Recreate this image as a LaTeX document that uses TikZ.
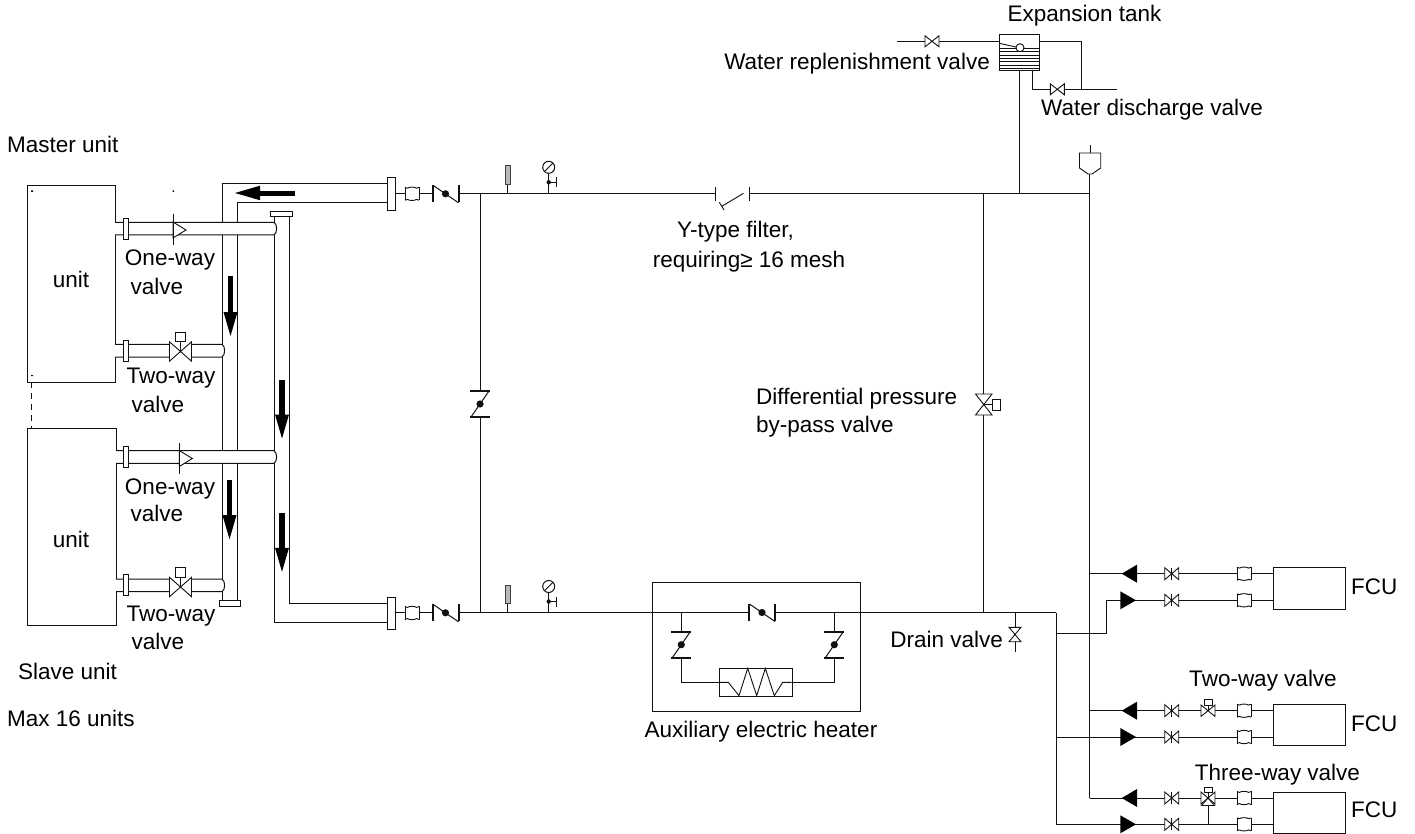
\documentclass[tikz,border=0pt]{standalone}
\usepackage{fontspec}
\setmainfont{Liberation Sans}
\definecolor{ink}{HTML}{111111}
\tikzset{
  pipe/.style={draw=ink,line width=1pt},
  thin pipe/.style={draw=ink,line width=.9pt},
  txt/.style={inner sep=0pt,font=\fontsize{22.5}{25}\selectfont,text=black},
  boxnode/.style={draw=ink,line width=1pt,fill=white,inner sep=0pt,minimum width=#1},
  pics/softjoint/.style={code={
    \fill[white] (-7,-6) rectangle (7,6);
    \draw[thin pipe] (-7,-6.7) -- (-7,6.7) (7,-6.7) -- (7,6.7);
    \draw[thin pipe] (-7,-6.4) -- (-4.5,-5.6) .. controls (-3,-7) and (3,-7) .. (4.5,-5.6) -- (7,-6.4);
    \draw[thin pipe] (-7,6.4) -- (-4.5,5.6) .. controls (-3,7) and (3,7) .. (4.5,5.6) -- (7,6.4);
  }},
  pics/checkh/.style={code={
    \fill[white] (-13,-4) rectangle (13,4);
    \draw[pipe,line width=2pt] (-13,-8.5) -- (-13,8.5) (13,-8.5) -- (13,8.5);
    \draw[pipe] (-12.5,-8.5) -- (13,9);
    \fill[ink] (0,0) circle[radius=3.6pt];
  }},
  pics/checkv/.style={code={
    \fill[white] (-4,-13) rectangle (4,13);
    \draw[pipe,line width=2pt] (-10,-13) -- (10,-13) (-10,13) -- (10,13);
    \draw[pipe] (9,-13) -- (-9,13);
    \fill[ink] (0,0) circle[radius=3.6pt];
  }},
  pics/bowtie/.style={code={
    \draw[thin pipe,fill=white] (-7,-5.5) -- (7,5.5) -- (7,-5.5) -- (-7,5.5) -- cycle;
  }},
  pics/bowtiebar/.style={code={
    \draw[thin pipe,fill=white] (-7,-6) -- (7,6) -- (7,-6) -- (-7,6) -- cycle;
    \draw[thin pipe] (0,-6) -- (0,6);
  }},
  pics/bowtiev/.style={code={
    \draw[thin pipe,fill=white] (-6,-7.2) -- (6,7.2) -- (-6,7.2) -- (6,-7.2) -- cycle;
  }},
  pics/gauge/.style={code={
    \draw[pipe] (0,0) -- (0,-20);
    \draw[pipe,fill=white] (0,-26) circle[radius=6pt];
    \draw[thin pipe] (-4,-22) -- (4,-30);
    \fill[ink] (0,-11) circle[radius=2.2pt];
    \draw[pipe] (0,-11) -- (8,-11) (8,-16) -- (8,-6);
  }},
  pics/thermo/.style={code={
    \draw[pipe] (0,0) -- (0,-9);
    \draw[draw=ink!80,line width=.8pt,fill=ink!30] (-2.2,-9) rectangle (2.2,-27.5);
  }},
  pics/arrowdown/.style={code={
    \fill[black] (-2.6,0) rectangle (2.6,#1) ;
    \fill[black] (-7,#1) -- (7,#1) -- (0,#1+24) -- cycle;
  }},
  pics/actuator/.style={code={
    \fill[white] (-11,-9.7) rectangle (11,9.7);
    \draw[thin pipe,fill=white] (-5.2,-9.7) rectangle (5.2,-19.2);
    \draw[thin pipe,fill=white] (-11,-9.7) -- (11,9.7) -- (11,-9.7) -- (-11,9.7) -- cycle;
    \draw[thin pipe] (0,0) -- (0,-9.7);
  }},
  pics/fwdvalve/.style={code={
    \draw[thin pipe,fill=white] (0,-8) -- (13,0) -- (0,8) -- cycle;
    \draw[pipe] (0,-16) -- (0,15.5);
  }},
}
\begin{document}
\begin{tikzpicture}[x=1pt,y=-1pt,line join=miter]
\useasboundingbox (0,0) rectangle (1415,834);
% --- named junctions
\coordinate (topL) at (395,193.3);
\coordinate (topV) at (480,193.3);
\coordinate (topFa) at (715,193.3);
\coordinate (topFb) at (749,193.3);
\coordinate (topB) at (983.7,193.3);
\coordinate (topT) at (1019.3,193.3);
\coordinate (topR) at (1089.7,193.3);
\coordinate (botL) at (395,612.5);
\coordinate (botV) at (480,612.5);
\coordinate (botB) at (983.7,612.5);
\coordinate (botD) at (1015,612.5);
\coordinate (botR) at (1056.3,612.5);
% --- units
\node[boxnode=88.5,minimum height=197.5,anchor=north west] (u1) at (26.5,184.7) {};
\node[boxnode=89.5,minimum height=197.2,anchor=north west] (u2) at (26.5,427.5) {};
\draw[thin pipe,dash pattern=on 6pt off 5pt] (31.5,382) -- (31.5,427.5);
\fill[ink] (31,190.5) rectangle (33,192) (172.5,190.5) rectangle (174,192) (31,375) rectangle (33,376);
% --- header pipes
\draw[pipe] (388,183.6) -- (222.5,183.6) -- (222.5,601);
\draw[pipe] (388,202.6) -- (237.5,202.6) -- (237.5,601);
\draw[pipe,fill=white] (219.5,600.8) rectangle (240.5,606.8);
\draw[pipe] (274,217) -- (274,622.6) -- (388,622.6);
\draw[pipe] (289,217) -- (289,603.4) -- (388,603.4);
\draw[pipe,fill=white] (270.5,211.7) rectangle (292.5,217);
% --- branch pipes
\draw[pipe,fill=white] (115,222.3) -- (274,222.3) .. controls (277.5,224) and (277.5,233) .. (274,235) -- (115,235);
\draw[pipe,fill=white] (115,344.3) -- (222,344.3) .. controls (225.5,346) and (225.5,355) .. (222,357) -- (115,357);
\draw[pipe,fill=white] (116,450.7) -- (274,450.7) .. controls (277.5,452.5) and (277.5,461.5) .. (274,463.3) -- (116,463.3);
\draw[pipe,fill=white] (116,579) -- (222,579) .. controls (225.5,581) and (225.5,590) .. (222,591.7) -- (116,591.7);
% flanges
\foreach \n/\yy in {a/228.6,b/350.6,c/457,d/585.3}{
  \draw[pipe,fill=white] (123,\yy-10.5) rectangle (128.5,\yy+10.5);
}
\draw[pipe,fill=white] (387.3,177.3) rectangle (395.3,210.7);
\draw[pipe,fill=white] (387.3,597.7) rectangle (395.3,629.3);
% valves on branches
\pic at (173,230) {fwdvalve};
\pic at (179.3,458.5) {fwdvalve};
\pic at (180.5,351.5) {actuator};
\pic at (180.5,587) {actuator};
% block arrows
\fill[black] (295,190.6) rectangle (258,195.6);
\fill[black] (260,185.7) -- (260,200.2) -- (235,193) -- cycle;
\pic at (230.5,276) {arrowdown=36};
\pic at (282,379.5) {arrowdown=35};
\pic at (229.5,479.7) {arrowdown=35.5};
\pic at (282,513.3) {arrowdown=34.5};
% --- main loop
\draw[pipe] (topL) -- (topFa) (topFb) -- (topR);
\draw[pipe] (botL) -- (652,612.5) (860,612.5) -- (botR);
\draw[pipe] (topV) -- (botV);
\draw[pipe] (topB) -- (botB);
\draw[pipe] (1089.7,174) -- (topR) -- (1089.7,798);
\pic at (412,193.8) {softjoint};
\pic at (445.5,193.8) {checkh};
\pic at (412,613) {softjoint};
\pic at (445.5,612.8) {checkh};
\pic at (480,404) {checkv};
\pic at (507.7,193.3) {thermo};
\pic at (548.7,193.3) {gauge};
\pic at (507.7,612.5) {thermo};
\pic at (548.7,612.5) {gauge};
% Y filter
\draw[thin pipe] (715,186.7) -- (715,200.7) (749,186.7) -- (749,200.7);
\draw[thin pipe] (743.5,193.3) -- (721.5,206.5) (719.3,202.3) -- (724,210);
% by-pass valve
\draw[thin pipe,fill=white] (975.5,394) -- (992,394) -- (975.5,415) -- (992,415) -- cycle;
\draw[thin pipe] (983.7,404.5) -- (992,404.5);
\draw[thin pipe,fill=white] (992,399) rectangle (1000,410);
% --- tank
\node[boxnode=39.4,minimum height=36,anchor=north west] (tank) at (999.3,34) {};
\foreach \yy in {48,51.7,55,58.3,61.7,65.7,68}{\draw[thin pipe] (999.3,\yy) -- (1038.7,\yy);}
\draw[thin pipe] (999.3,43.3) -- (1016,47);
\draw[thin pipe,fill=white] (1020,47.7) circle[radius=4pt];
\draw[pipe] (1019.3,70) -- (topT);
\draw[pipe] (896.7,41.3) -- (999.3,41.3);
\draw[pipe] (1038.7,41.3) -- (1081.7,41.3) -- (1081.7,89.3);
\draw[pipe] (1032.3,70) -- (1032.3,89.3) -- (1116.7,89.3);
\pic at (932,41.3) {bowtie};
\pic at (1057.3,89.3) {bowtie};
% vent
\draw[pipe] (1090,145) -- (1090,153);
\draw[thin pipe,fill=white] (1079.5,153) -- (1100.7,153) -- (1100.7,168) -- (1092,174) -- (1088,174) -- (1079.5,168) -- cycle;
% --- heater
\draw[pipe] (652,582.7) rectangle (860,711.3);
\coordinate (hL) at (681.3,612.5);
\coordinate (hR) at (834.3,612.5);
\draw[pipe] (652,612.5) -- (860,612.5);
\draw[pipe] (hL) -- (681.3,682.3) -- (719,682.3);
\draw[pipe] (hR) -- (834.3,682.3) -- (791.7,682.3);
\node[boxnode=72.7,minimum height=27.4,anchor=north west] (heat) at (719,668.3) {};
\draw[thin pipe] (719,682.3) -- (728.3,682.3) -- (739,695.7) -- (747.7,668.3) -- (756.7,695.7) -- (765.3,668.3) -- (774.3,695.7) -- (782.7,682.3) -- (791.7,682.3);
\pic at (762,612.5) {checkh};
\pic at (681.3,644.7) {checkv};
\pic at (834.3,644.7) {checkv};
% drain
\draw[pipe] (botD) -- (1015,652);
\pic at (1015,634.5) {bowtiev};
\draw[pipe] (botR) -- (1056.3,824.3);
% --- FCU lines
\draw[pipe] (1056.3,633) -- (1106.3,633) -- (1106.3,600.3) -- (1273.3,600.3);
\draw[pipe] (1089.7,573.7) -- (1273.3,573.7);
\draw[pipe] (1089.7,710.7) -- (1273.3,710.7);
\draw[pipe] (1056.3,737) -- (1273.3,737);
\draw[pipe] (1089.7,798) -- (1273.3,798);
\draw[pipe] (1056.3,824.3) -- (1273.3,824.3);
\node[boxnode=71.4,minimum height=41.4,anchor=north west] (f1) at (1273.3,567.3) {};
\node[boxnode=71.4,minimum height=41,anchor=north west] (f2) at (1273.3,704) {};
\node[boxnode=71.4,minimum height=41,anchor=north west] (f3) at (1273.3,791.7) {};
\foreach \yy in {573.7,710.7,798}{
  \fill[black] (1121.7,\yy) -- (1137,\yy-9) -- (1137,\yy+9) -- cycle;
  \pic at (1171.7,\yy) {bowtiebar};
  \pic at (1244,\yy) {softjoint};
}
\foreach \yy in {600.3,737,824.3}{
  \fill[black] (1120.3,\yy-9) -- (1136,\yy) -- (1120.3,\yy+9) -- cycle;
  \pic at (1171.7,\yy) {bowtiebar};
  \pic at (1244,\yy) {softjoint};
}
% two-way valve on FCU 2
\draw[thin pipe,fill=white] (1201,705) -- (1215,716.4) -- (1215,705) -- (1201,716.4) -- cycle;
\draw[thin pipe] (1208,710.7) -- (1208,705);
\draw[thin pipe,fill=white] (1204.7,699.7) rectangle (1212,705);
% three-way valve on FCU 3
\draw[pipe] (1208,798) -- (1208,824.3);
\draw[thin pipe,fill=white] (1201,792) -- (1215,804) -- (1215,792) -- (1201,804) -- cycle;
\draw[thin pipe,fill=white] (1208,798) -- (1201.5,805.5) -- (1214.5,805.5) -- cycle;
\draw[thin pipe] (1208,798) -- (1208,792);
\draw[thin pipe,fill=white] (1204.7,787.7) rectangle (1212,792.3);
% --- labels
\node[txt,anchor=base west] (l1) at (7,153) {Master unit};
\node[txt,anchor=base] (l2) at (71,287.5) {unit};
\node[txt,anchor=base] (l3) at (71,547.5) {unit};
\node[txt,anchor=base] (l4) at (170,265.5) {One-way};
\node[txt,anchor=base] (l5) at (157,294.5) {valve};
\node[txt,anchor=base] (l6) at (171,383.5) {Two-way};
\node[txt,anchor=base] (l7) at (158,412.5) {valve};
\node[txt,anchor=base] (l8) at (170,494) {One-way};
\node[txt,anchor=base] (l9) at (157,521) {valve};
\node[txt,anchor=base] (l10) at (171,621) {Two-way};
\node[txt,anchor=base] (l11) at (158,649.5) {valve};
\node[txt,anchor=base west] (l12) at (18,679) {Slave unit};
\node[txt,anchor=base west] (l13) at (7,726.5) {Max 16 units};
\node[txt,anchor=base] (l14) at (1084.5,22) {Expansion tank};
\node[txt,anchor=base east] (l15) at (990,69.5) {Water replenishment valve};
\node[txt,anchor=base west] (l16) at (1041,115.5) {Water discharge valve};
\node[txt,anchor=base] (l17) at (735.5,237.5) {Y-type filter,};
\node[txt,anchor=base] (l18) at (749,267) {requiring≥ 16 mesh};
\node[txt,anchor=base west] (l19) at (756,404.5) {Differential pressure};
\node[txt,anchor=base west] (l20) at (756,432.5) {by-pass valve};
\node[txt,anchor=base] (l21) at (761,737.5) {Auxiliary electric heater};
\node[txt,anchor=base east] (l22) at (1003,647.5) {Drain valve};
\node[txt,anchor=base] (l23) at (1263,686) {Two-way valve};
\node[txt,anchor=base] (l24) at (1277.5,780) {Three-way valve};
\node[txt,anchor=base west] (l25) at (1351,594.5) {FCU};
\node[txt,anchor=base west] (l26) at (1351,731.5) {FCU};
\node[txt,anchor=base west] (l27) at (1351,817.5) {FCU};
\end{tikzpicture}
\end{document}
